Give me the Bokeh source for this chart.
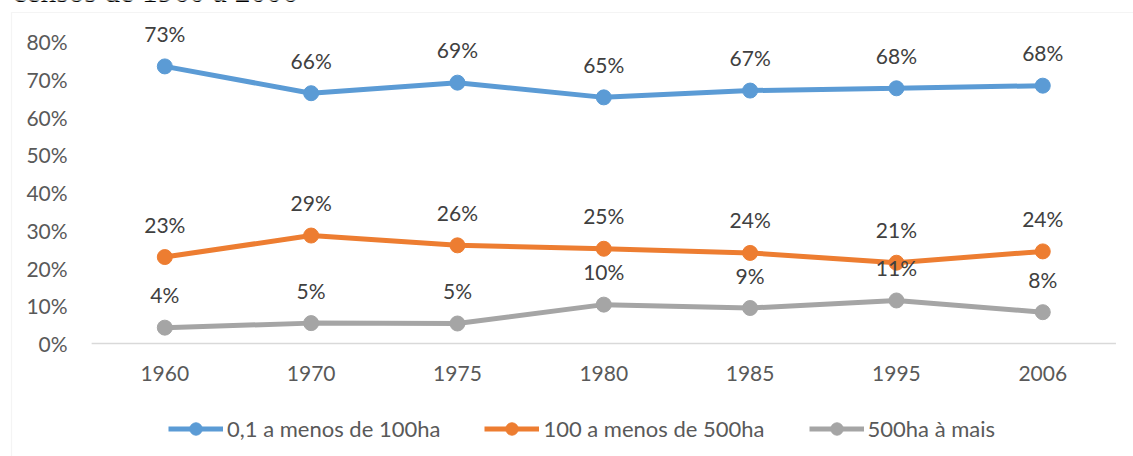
from bokeh.plotting import figure
from bokeh.models import (Range1d, FixedTicker, PrintfTickFormatter,
                          Legend, LegendItem, BoxAnnotation, Label)
from bokeh.core.properties import value
from bokeh.embed import file_html
from bokeh.resources import INLINE

years = ["1960", "1970", "1975", "1980", "1985", "1995", "2006"]
small = [73.4, 66.3, 69.1, 65.2, 67.0, 67.6, 68.3]      # 0,1 a menos de 100ha
medium = [22.9, 28.6, 26.0, 25.1, 24.0, 21.4, 24.4]     # 100 a menos de 500ha
large = [4.2, 5.4, 5.3, 10.3, 9.4, 11.4, 8.3]           # 500ha à mais
series_names = ["0,1 a menos de 100ha", "100 a menos de 500ha", "500ha à mais"]
y_ticks = [0, 10, 20, 30, 40, 50, 60, 70, 80]
title_text = "censos de 1960 a 2006"

colors = ["#5B9BD5", "#ED7D31", "#A5A5A5"]
FONT = "Lato"
xs = list(range(len(years)))

p = figure(width=1133, height=456, output_backend="svg", toolbar_location=None,
           x_range=Range1d(-1.1228, 6.620), y_range=Range1d(-29.93, 90.86),
           min_border=0)
p.outline_line_color = None
p.xgrid.visible = False
p.ygrid.visible = False
p.background_fill_color = "white"
p.border_fill_color = "white"

# chart border (left and top edges visible in the window)
p.add_layout(BoxAnnotation(left=11, right=1400, top=12, bottom=800,
                           left_units="canvas", right_units="canvas",
                           top_units="canvas", bottom_units="canvas",
                           fill_alpha=0, line_color="#D9D9D9", line_width=1.2,
                           level="underlay"))

# category-axis baseline spanning the category bands
p.segment(x0=[xs[0] - 0.5], y0=[0], x1=[xs[-1] + 0.5], y1=[0],
          line_color="#D9D9D9", line_width=1.5)

xa = p.xaxis[0]
xa.fixed_location = 0
xa.ticker = FixedTicker(ticks=xs)
xa.major_label_overrides = {i: y for i, y in zip(xs, years)}
xa.axis_line_color = None
xa.major_tick_line_color = None
xa.minor_tick_line_color = None
xa.major_label_text_font = FONT
xa.major_label_text_font_size = "21px"
xa.major_label_text_color = "#595959"
xa.major_label_standoff = 16

ya = p.yaxis[0]
ya.fixed_location = xs[0] - 0.5
ya.axis_line_color = None
ya.major_tick_line_color = None
ya.minor_tick_line_color = None
ya.ticker = FixedTicker(ticks=y_ticks)
ya.formatter = PrintfTickFormatter(format="%d%%")
ya.major_label_text_font = FONT
ya.major_label_text_font_size = "21px"
ya.major_label_text_color = "#595959"
ya.major_label_standoff = 18

items = []
for vals, col, name in zip([small, medium, large], colors, series_names):
    ln = p.line(xs, vals, line_color=col, line_width=5)
    sc = p.scatter(xs, vals, size=15, fill_color=col, line_color=col)
    labels = [f"{round(v)}%" for v in vals]
    p.text(xs, vals, text=labels, y_offset=-33, text_align="center",
           text_baseline="alphabetic", text_font=value(FONT),
           text_font_size="21px", text_color="#404040")
    items.append(LegendItem(label=name, renderers=[ln, sc]))

legend = Legend(items=items, orientation="horizontal", location=(168, 12),
                glyph_width=55, glyph_height=31, label_standoff=4, spacing=44,
                padding=0, margin=0, border_line_color=None,
                background_fill_alpha=0, label_text_font=FONT,
                label_text_font_size="22px", label_text_color="#595959")
p.add_layout(legend, "center")

p.add_layout(Label(x=12, y=-9.5, x_units="canvas", y_units="canvas", text=title_text,
                   text_font="Liberation Serif", text_font_size="31.5px",
                   text_color="black", text_baseline="alphabetic"))

open("out.html", "w").write(file_html(p, INLINE))
